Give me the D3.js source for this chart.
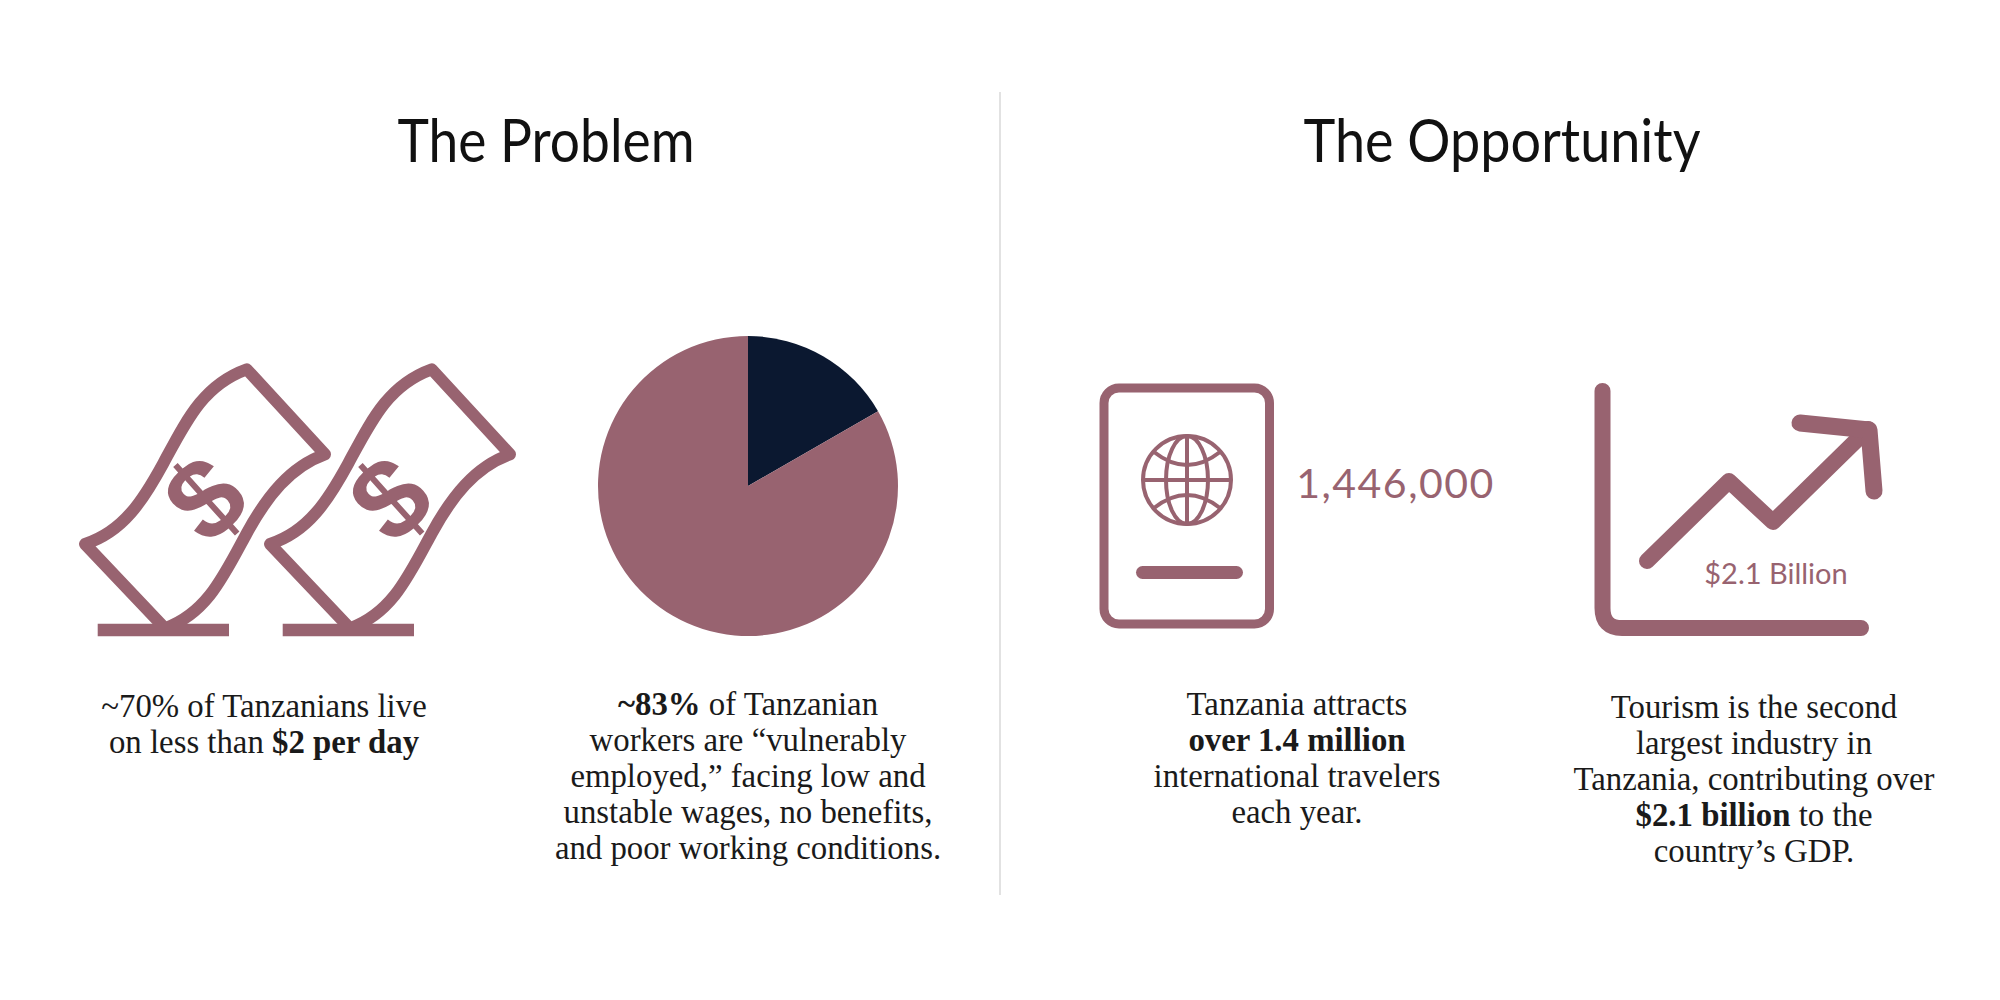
<!DOCTYPE html>
<html>
<head>
<meta charset="utf-8">
<script src="https://cdn.jsdelivr.net/npm/d3@7"></script>
<style>
  html, body { margin: 0; background: #fff; }
  svg { display: block; }
  .title { font-family: Lato, sans-serif; font-size: 60px; fill: #111; text-anchor: middle; }
  .caption { font-family: "Liberation Serif", serif; font-size: 32.8px; fill: #1a1a1a; text-anchor: middle; }
  .stat { font-family: Lato, sans-serif; fill: #986370; text-anchor: middle; }
  .icon { fill: none; stroke: #986370; stroke-linejoin: round; }
</style>
</head>
<body>
<svg id="chart" width="2000" height="1000"></svg>
<script>
var titles = ['The Problem', 'The Opportunity']
var pieValues = [16.7, 83.3]
var pieColors = ['#0B1830', '#986370']

// ** marks the bold part of a line
var captionProblem1 = ['~70% of Tanzanians live', 'on less than **$2 per day**']
var captionProblem2 = ['**~83%** of Tanzanian', 'workers are “vulnerably', 'employed,” facing low and', 'unstable wages, no benefits,', 'and poor working conditions.']
var captionOpp1 = ['Tanzania attracts', '**over 1.4 million**', 'international travelers', 'each year.']
var captionOpp2 = ['Tourism is the second', 'largest industry in', 'Tanzania, contributing over', '**$2.1 billion** to the', 'country’s GDP.']

var svg = d3.select('#chart')

// titles + divider
svg.append('line')
    .attr('x1', 1000).attr('x2', 1000)
    .attr('y1', 92).attr('y2', 895)
    .attr('stroke', '#d9d9d9')
    .attr('stroke-width', 1.5)

svg.selectAll('.title')
    .data(titles)
    .enter()
    .append('text')
    .attr('class', 'title')
    .attr('x', function(d, i) { return i == 0 ? 546 : 1502 })
    .attr('y', 162)
    .attr('textLength', function(d, i) { return i == 0 ? 297 : 397 })
    .attr('lengthAdjust', 'spacingAndGlyphs')
    .text(function(d) { return d })

// pie
var arc = d3.arc().innerRadius(0).outerRadius(150)
var pie = d3.pie().sort(null)

svg.append('g')
    .attr('transform', 'translate(748,486)')
    .selectAll('path')
    .data(pie(pieValues))
    .enter()
    .append('path')
    .attr('d', arc)
    .attr('fill', function(d, i) { return pieColors[i] })

// money icons
var billPath = 'M246.7,369.3 L325,454.3 C290,466.7 266.7,496.7 246.7,533.3 C223.3,576.7 206.7,613.3 165,628.3 L85,544 ' +
    'C123.3,531.7 143.3,500 163.3,463.3 C186.7,420 203.3,385 246.7,369.3 Z'

;[0, 185].forEach(function(dx) {
    var g = svg.append('g').attr('transform', 'translate(' + dx + ',0)')
    g.append('path').attr('class', 'icon').attr('d', billPath).attr('stroke-width', 12)
    g.append('line').attr('class', 'icon')
        .attr('x1', 97.7).attr('x2', 229).attr('y1', 630).attr('y2', 630)
        .attr('stroke-width', 12.5)
    g.append('text')
        .attr('transform', 'translate(205,498) rotate(-42)')
        .attr('text-anchor', 'middle')
        .attr('dy', '0.35em')
        .attr('font-family', 'Liberation Sans')
        .attr('font-weight', 'bold')
        .attr('font-size', 113)
        .attr('fill', '#986370')
        .text('$')
})

// passport
var passport = svg.append('g').attr('class', 'icon')
passport.append('rect')
    .attr('x', 1104).attr('y', 388)
    .attr('width', 165.5).attr('height', 236)
    .attr('rx', 15)
    .attr('stroke-width', 9)
passport.append('line')
    .attr('x1', 1142.5).attr('x2', 1236.5).attr('y1', 572.5).attr('y2', 572.5)
    .attr('stroke-width', 13)
    .attr('stroke-linecap', 'round')

var globe = passport.append('g').attr('stroke-width', 4)
globe.append('circle').attr('cx', 1187).attr('cy', 480).attr('r', 44)
globe.append('ellipse').attr('cx', 1187).attr('cy', 480).attr('rx', 21).attr('ry', 44)
globe.append('line').attr('x1', 1187).attr('x2', 1187).attr('y1', 436).attr('y2', 524)
globe.append('line').attr('x1', 1143).attr('x2', 1231).attr('y1', 480).attr('y2', 480)
globe.append('path').attr('d', 'M1154,452 Q1187,478 1220,452')
globe.append('path').attr('d', 'M1154,508 Q1187,482 1220,508')

svg.append('text').attr('class', 'stat')
    .attr('x', 1395.5).attr('y', 498)
    .attr('font-size', 41)
    .attr('letter-spacing', 1.5)
    .text('1,446,000')

// growth icon
var growth = svg.append('g').attr('class', 'icon').attr('stroke-linecap', 'round')
growth.append('path')
    .attr('d', 'M1602.5,391 V608 Q1602.5,628 1622,628 H1861')
    .attr('stroke-width', 16)
growth.append('path')
    .attr('d', 'M1647,561 L1729,481 L1773,522 L1868,429')
    .attr('stroke-width', 16)
growth.append('path')
    .attr('d', 'M1800,423 L1869,430 L1874,491')
    .attr('stroke-width', 17)

svg.append('text').attr('class', 'stat')
    .attr('x', 1776).attr('y', 584)
    .attr('font-size', 29)
    .text('$2.1 Billion')

// captions
function drawCaption(lines, x, y0) {
    var text = svg.append('text').attr('class', 'caption')
    lines.forEach(function(line, i) {
        var row = text.append('tspan').attr('x', x).attr('y', y0 + i * 36)
        line.split('**').forEach(function(part, j) {
            if (part == '') return
            row.append('tspan')
                .attr('font-weight', j % 2 == 1 ? 'bold' : 'normal')
                .text(part)
        })
    })
}

drawCaption(captionProblem1, 264, 717)
drawCaption(captionProblem2, 748, 715)
drawCaption(captionOpp1, 1297, 715)
drawCaption(captionOpp2, 1754, 718)
</script>
</body>
</html>
